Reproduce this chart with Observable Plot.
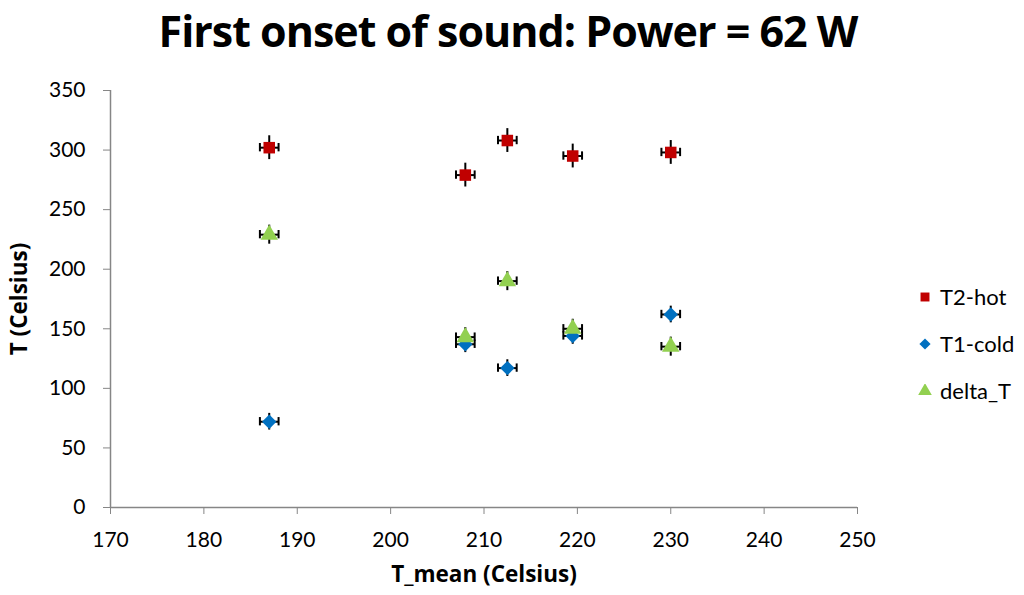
<!DOCTYPE html>
<html><head><meta charset="utf-8">
<script src="https://cdn.jsdelivr.net/npm/d3@7"></script>
<script src="https://cdn.jsdelivr.net/npm/@observablehq/plot@0.6"></script>
<style>
body{margin:0;background:#fff;font-family:Lato,"Open Sans",sans-serif;}
#wrap{position:relative;width:1024px;height:595px;}
#title{position:absolute;left:0;top:1px;width:1024px;text-align:center;font-family:"Open Sans",sans-serif;font-weight:bold;font-size:43px;color:#000;margin-left:-4px;letter-spacing:-1px}
#legend{position:absolute;left:918px;top:273px;font-size:22px;color:#000;}
.li{height:47px;display:flex;align-items:center;}
.li svg{margin-right:8px}
</style></head><body>
<div id="wrap">
<div id="title">First onset of sound: Power = 62 W</div>
<div id="chart"></div>
<div id="legend"></div>
</div>
<script>
const seriesNames = ["T2-hot","T1-cold","delta_T"];
const seriesColors = ["#C00000","#0070C0","#92D050"];
const seriesSymbols = ["square","diamond2","triangle"];
const tMean = [187, 208, 212.5, 219.5, 230];
const hot = [302, 279, 308, 295, 298];
const cold = [72, 137, 117, 144, 162];
const delta = [229, 143, 190, 150, 135];
const yErr = [10, 7, 8];
const xErr = 1;
const xTicks = [170,180,190,200,210,220,230,240,250];
const yTicks = [0,50,100,150,200,250,300,350];

const vals = [hot, cold, delta];
const data = [];
vals.forEach((arr, si) => arr.forEach((v, i) => data.push({s: seriesNames[si], x: tMean[i], y: v, e: yErr[si]})));

const chart = Plot.plot({
  width: 1024, height: 595,
  marginTop: 90, marginBottom: 88, marginLeft: 110, marginRight: 167,
  style: {fontFamily: "Lato, 'Open Sans', sans-serif", fontSize: "21px", color: "#000", background: "#fff"},
  x: {domain: [170, 250]},
  y: {domain: [0, 350]},
  color: {domain: seriesNames, range: seriesColors},
  symbol: {domain: seriesNames, range: seriesSymbols},
  marks: [
    Plot.ruleX([170], {stroke: "#868686", strokeWidth: 1.5}),
    Plot.ruleY([0], {stroke: "#868686", strokeWidth: 1.5}),
    Plot.axisX({ticks: xTicks, tickSize: 7, tickPadding: 18, stroke: "#868686", label: null, tickFormat: d => d, fontSize: 21}),
    Plot.axisY({ticks: yTicks, tickSize: 7, tickPadding: 18, stroke: "#868686", label: null, tickFormat: d => d, fontSize: 21}),
    Plot.text(["T_mean (Celsius)"], {frameAnchor: "bottom", dy: 74, fontWeight: "bold", fontSize: 22.5, fontFamily: "Open Sans"}),
    Plot.text(["T (Celsius)"], {frameAnchor: "left", textAnchor: "middle", dx: -91, rotate: -90, fontWeight: "bold", fontSize: 22.5, fontFamily: "Open Sans"}),
    Plot.ruleX(data, {x: "x", y1: d => d.y - d.e, y2: d => d.y + d.e, stroke: "#000", strokeWidth: 2}),
    Plot.ruleY(data, {y: "y", x1: d => d.x - xErr, x2: d => d.x + xErr, stroke: "#000", strokeWidth: 2}),
    Plot.ruleX(data, {x: d => d.x - xErr, y1: d => d.y - 3.5, y2: d => d.y + 3.5, stroke: "#000", strokeWidth: 2}),
    Plot.ruleX(data, {x: d => d.x + xErr, y1: d => d.y - 3.5, y2: d => d.y + 3.5, stroke: "#000", strokeWidth: 2}),
    Plot.dot(data, {x: "x", y: "y", fill: "s", symbol: "s", r: 6.5, stroke: "none"})
  ]
});
document.getElementById("chart").appendChild(chart);

const symMap = {square: d3.symbolSquare, diamond2: d3.symbolDiamond2, triangle: d3.symbolTriangle};
const leg = document.getElementById("legend");
seriesNames.forEach((n, i) => {
  const row = document.createElement("div");
  row.className = "li";
  const sym = d3.symbol(symMap[seriesSymbols[i]], 80)();
  row.innerHTML = `<svg width="14" height="14" viewBox="-7 -7 14 14"><path d="${sym}" fill="${seriesColors[i]}"/></svg><span>${n}</span>`;
  leg.appendChild(row);
});
</script>
</body></html>
